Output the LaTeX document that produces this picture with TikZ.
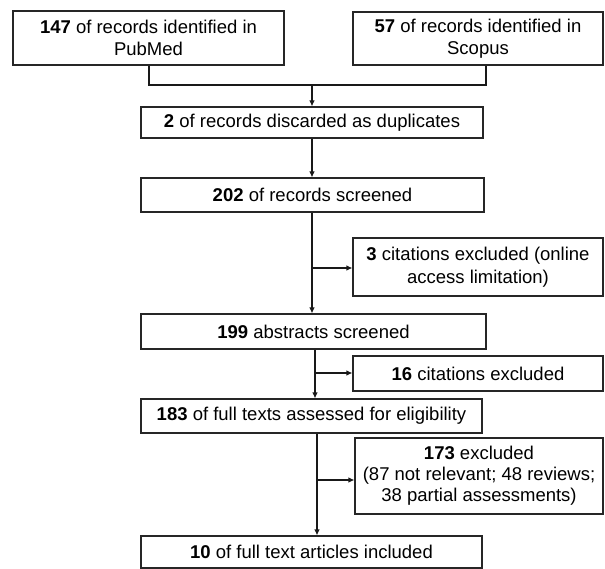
\documentclass[tikz,border=0pt]{standalone}
\usepackage{fontspec}
\setmainfont{Liberation Sans}
\usetikzlibrary{arrows.meta}
\begin{document}
\begin{tikzpicture}[x=1pt,y=-1pt,
  box/.style={draw=black!85, line width=1.1pt, inner sep=0pt, align=center,
    font=\fontsize{18.5}{22.5}\selectfont},
  link/.style={draw=black!90, line width=1.1pt},
  arr/.style={link, -{Latex[length=6pt,width=5.5pt]}}]
\useasboundingbox (0,0) rectangle (605,569);
\node[box, minimum width=271pt, minimum height=54pt] (pub) at (148.5,38)
  {\textbf{147} of records identified in\\PubMed};
\node[box, minimum width=250pt, minimum height=53pt] (sco) at (478,38.5)
  {\textbf{57} of records identified in\\Scopus};
\node[box, minimum width=342pt, minimum height=31pt] (dup) at (312,122.5)
  {\textbf{2} of records discarded as duplicates};
\node[box, minimum width=343pt, minimum height=34pt] (scr) at (312.5,195)
  {\textbf{202} of records screened};
\node[box, minimum width=250pt, minimum height=58pt] (c3) at (478,267)
  {\textbf{3} citations excluded (online\\access limitation)};
\node[box, minimum width=345pt, minimum height=35pt] (abs) at (313.5,331.5)
  {\textbf{199} abstracts screened};
\node[box, minimum width=250pt, minimum height=35pt] (c16) at (478,373.5)
  {\textbf{16} citations excluded};
\node[box, minimum width=341pt, minimum height=34pt] (full) at (311.5,416)
  {\textbf{183} of full texts assessed for eligibility};
\node[box, minimum width=248pt, minimum height=76pt, font=\fontsize{18.5}{21}\selectfont] (c173) at (479,476)
  {\textbf{173} excluded\\(87 not relevant; 48 reviews;\\38 partial assessments)};
\node[box, minimum width=341pt, minimum height=32pt] (inc) at (311.5,552)
  {\textbf{10} of full text articles included};
% junction of the two sources
\coordinate (j) at (312,85);
\coordinate (jl) at (149,85);
\coordinate (jr) at (486,85);
\draw[link] (pub.south -| jl) -- (jl) -- (jr) -- (sco.south -| jr);
\draw[arr] (j) -- (dup.north -| j);
\draw[arr] (dup.south -| j) -- (scr.north -| j);
% screening branch
\coordinate (b1) at (312,268);
\draw[arr] (scr.south -| b1) -- (abs.north -| b1);
\draw[arr] (b1) -- (c3.west |- b1);
\coordinate (b2) at (315,373);
\draw[arr] (abs.south -| b2) -- (full.north -| b2);
\draw[arr] (b2) -- (c16.west |- b2);
\coordinate (b3) at (317,480);
\draw[arr] (full.south -| b3) -- (inc.north -| b3);
\draw[arr] (b3) -- (c173.west |- b3);
\end{tikzpicture}
\end{document}
